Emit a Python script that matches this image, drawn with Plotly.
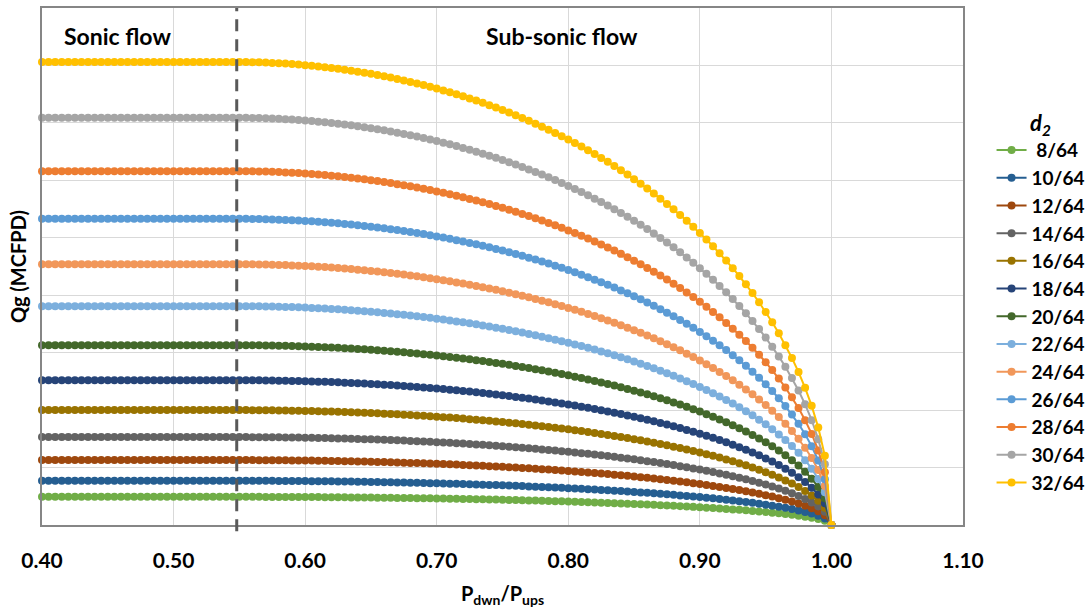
import plotly.graph_objects as go

# ---- data ----
series_names = ["\u00a08/64", "10/64", "12/64", "14/64", "16/64", "18/64", "20/64",
                "22/64", "24/64", "26/64", "28/64", "30/64", "32/64"]
colors = ["#70AD47", "#255E91", "#9E480E", "#636363", "#997300", "#264478", "#43682B",
          "#7CAFDD", "#F1975A", "#5B9BD5", "#ED7D31", "#A5A5A5", "#FFC000"]
# sonic (plateau) flow rate of each choke size, MCFPD
sonic_flow = [49, 77, 113, 153, 200, 252, 313, 381, 454, 533, 616, 709, 806]

# pressure ratio grid P_dwn/P_ups (0.400 ... 1.000, step 0.005)
pressure_ratio = [round(0.400 + 0.005 * i, 3) for i in range(121)]

# Q / Q_sonic (same shape for every choke size)
flow_ratio = [1.0] * 30 + [
    1.0000, 0.9999, 0.9996, 0.9992, 0.9987, 0.9980, 0.9973, 0.9965, 0.9955, 0.9944,
    0.9932, 0.9919, 0.9904, 0.9889, 0.9872, 0.9854, 0.9834, 0.9813, 0.9792, 0.9768,
    0.9744, 0.9718, 0.9691, 0.9663, 0.9633, 0.9602, 0.9570, 0.9536, 0.9501, 0.9464,
    0.9426, 0.9387, 0.9346, 0.9303, 0.9259, 0.9214, 0.9167, 0.9118, 0.9068, 0.9016,
    0.8962, 0.8907, 0.8850, 0.8791, 0.8730, 0.8668, 0.8603, 0.8537, 0.8468, 0.8398,
    0.8325, 0.8251, 0.8174, 0.8095, 0.8013, 0.7929, 0.7843, 0.7754, 0.7662, 0.7568,
    0.7470, 0.7370, 0.7266, 0.7160, 0.7049, 0.6935, 0.6818, 0.6696, 0.6571, 0.6441,
    0.6306, 0.6166, 0.6021, 0.5870, 0.5712, 0.5548, 0.5377, 0.5198, 0.5009, 0.4811,
    0.4601, 0.4378, 0.4140, 0.3884, 0.3607, 0.3303, 0.2963, 0.2573, 0.2107, 0.1494,
    0.0000]

critical_ratio = 0.548
x_ticks = [0.40, 0.50, 0.60, 0.70, 0.80, 0.90, 1.00, 1.10]
x_tick_labels = ["0.40", "0.50", "0.60", "0.70", "0.80", "0.90", "1.00", "1.10"]

FONT = "Lato, 'Open Sans', sans-serif"

fig = go.Figure()
for name, col, qs in zip(series_names, colors, sonic_flow):
    fig.add_trace(go.Scatter(
        x=pressure_ratio,
        y=[qs * r for r in flow_ratio],
        mode="lines+markers",
        name="<b>" + name + "</b>",
        line=dict(color=col, width=2),
        marker=dict(color=col, size=8),
        cliponaxis=False,
    ))

fig.add_shape(type="line", xref="x", yref="paper",
              x0=critical_ratio, x1=critical_ratio, y0=-0.012, y1=1,
              line=dict(color="#595959", width=3, dash="12px,8px"))

fig.add_annotation(x=0, y=1, xref="paper", yref="paper", xanchor="center", yanchor="middle",
                   xshift=75, yshift=-28,
                   text="<b>Sonic flow</b>", showarrow=False,
                   font=dict(family=FONT, size=23, color="#000000"))
fig.add_annotation(x=0.5644, y=1, xref="paper", yref="paper", xanchor="center", yanchor="middle",
                   yshift=-28,
                   text="<b>Sub-sonic flow</b>", showarrow=False,
                   font=dict(family=FONT, size=23, color="#000000"))

fig.update_layout(
    width=1091, height=615,
    margin=dict(l=42, r=128, t=8, b=90, autoexpand=False),
    paper_bgcolor="white", plot_bgcolor="white",
    font=dict(family=FONT, color="#000000"),
    showlegend=True,
    legend=dict(
        x=1.031, y=0.817, xanchor="left", yanchor="top",
        font=dict(family=FONT, size=19, color="#000000"),
        title=dict(text="<b><i>d<sub>2</sub></i></b>", side="top center",
                   font=dict(family=FONT, size=22, color="#000000")),
        itemwidth=30,
        bgcolor="rgba(0,0,0,0)",
    ),
)

fig.update_xaxes(
    range=[0.40, 1.10], tickvals=x_ticks,
    ticktext=["<b>" + t + "</b>" for t in x_tick_labels],
    showgrid=True, gridcolor="#D9D9D9", gridwidth=1,
    showline=True, linecolor="#868686", linewidth=1.5, mirror=True,
    ticks="", zeroline=False,
    tickfont=dict(family=FONT, size=21, color="#000000"),
    ticklabelstandoff=16,
    title=dict(text="<b>P<sub>dwn</sub>/P<sub>ups</sub></b>", standoff=16,
               font=dict(family=FONT, size=20, color="#000000")),
)
fig.update_yaxes(
    range=[0, 900], dtick=100,
    showgrid=True, gridcolor="#D9D9D9", gridwidth=1,
    showline=True, linecolor="#868686", linewidth=1.5, mirror=True,
    showticklabels=False, ticks="", zeroline=False,
    title=dict(text="<b>Qg (MCFPD)</b>", standoff=8,
               font=dict(family=FONT, size=20, color="#000000")),
)

fig.write_html("out.html")
